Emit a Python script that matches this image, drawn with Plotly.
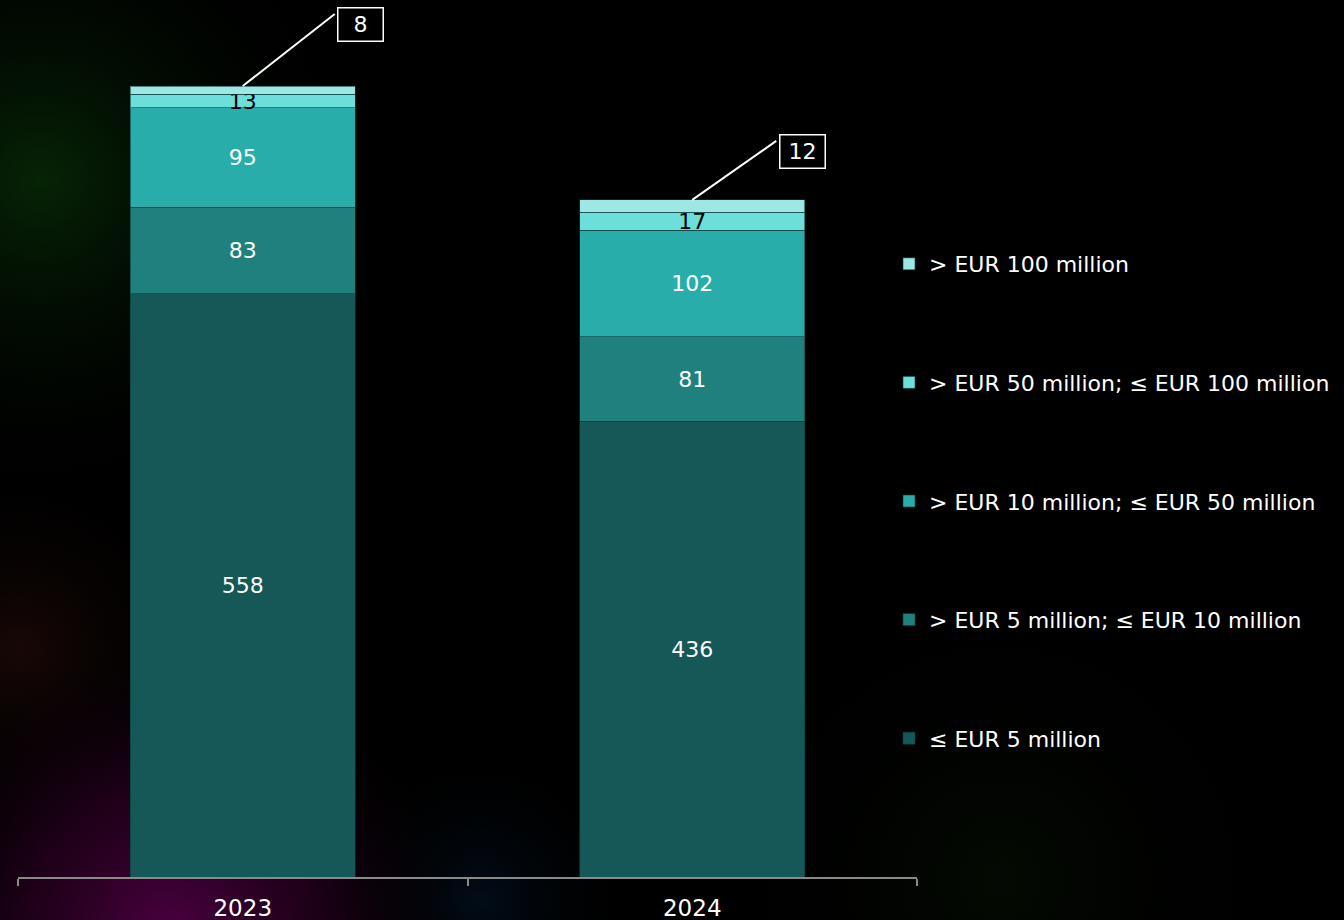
import base64
import plotly.graph_objects as go

years = ["2023", "2024"]
series_names = [
    "≤ EUR 5 million",
    "> EUR 5 million; ≤ EUR 10 million",
    "> EUR 10 million; ≤ EUR 50 million",
    "> EUR 50 million; ≤ EUR 100 million",
    "> EUR 100 million",
]
le_5 = [558, 436]
m5_10 = [83, 81]
m10_50 = [95, 102]
m50_100 = [13, 17]
gt_100 = [8, 12]
series_values = [le_5, m5_10, m10_50, m50_100, gt_100]
colors = ["#165858", "#20807e", "#29adaa", "#6ddfdb", "#9de8e5"]
text_colors = ["white", "white", "white", "black", "black"]
show_text = [True, True, True, True, False]

FONT = "DejaVu Sans"

# background glow (svg)
W, H = 1344, 920
svg = f'''<svg xmlns="http://www.w3.org/2000/svg" width="{W}" height="{H}" viewBox="0 0 {W} {H}">
<defs>
<radialGradient id="g1" cx="40" cy="180" r="330" gradientUnits="userSpaceOnUse">
<stop offset="0" stop-color="#062406" stop-opacity="1"/>
<stop offset="1" stop-color="#000000" stop-opacity="0"/>
</radialGradient>
<radialGradient id="g2" cx="170" cy="930" r="300" gradientUnits="userSpaceOnUse">
<stop offset="0" stop-color="#4a0040" stop-opacity="1"/>
<stop offset="0.5" stop-color="#280020" stop-opacity="0.7"/>
<stop offset="1" stop-color="#000000" stop-opacity="0"/>
</radialGradient>
<radialGradient id="g3" cx="20" cy="650" r="200" gradientUnits="userSpaceOnUse">
<stop offset="0" stop-color="#180806" stop-opacity="1"/>
<stop offset="1" stop-color="#000000" stop-opacity="0"/>
</radialGradient>
<radialGradient id="g4" cx="480" cy="900" r="160" gradientUnits="userSpaceOnUse">
<stop offset="0" stop-color="#020c18" stop-opacity="1"/>
<stop offset="1" stop-color="#000000" stop-opacity="0"/>
</radialGradient>
<radialGradient id="g5" cx="1000" cy="880" r="300" gradientUnits="userSpaceOnUse">
<stop offset="0" stop-color="#040a02" stop-opacity="1"/>
<stop offset="1" stop-color="#000000" stop-opacity="0"/>
</radialGradient>
</defs>
<rect width="{W}" height="{H}" fill="#000000"/>
<rect width="{W}" height="{H}" fill="url(#g1)"/>
<rect width="{W}" height="{H}" fill="url(#g3)"/>
<rect width="{W}" height="{H}" fill="url(#g4)"/>
<rect width="{W}" height="{H}" fill="url(#g5)"/>
<rect width="{W}" height="{H}" fill="url(#g2)"/>
</svg>'''
bg_src = "data:image/svg+xml;base64," + base64.b64encode(svg.encode()).decode()

ML, MR, MT, MB = 18, 427, 0, 43
PW = W - ML - MR
PH = H - MT - MB

fig = go.Figure()
for i, (name, vals) in enumerate(zip(series_names, series_values)):
    fig.add_trace(go.Bar(
        x=years, y=vals, name=name,
        marker=dict(color=colors[i], line=dict(color="rgba(10,60,60,0.6)", width=1)),
        text=[str(v) for v in vals] if show_text[i] else None,
        textposition="inside" if show_text[i] else "none",
        insidetextanchor="middle",
        textangle=0,
        textfont=dict(color=text_colors[i], size=22, family=FONT),
        legendgroup=f"g{i}",
        legendrank=10 - i,
        hoverinfo="skip",
    ))

# callouts for the smallest segment: leader line (pixel offsets from bar top) + boxed label
totals = [sum(v[j] for v in series_values) for j in range(len(years))]
leader_ends = [(92, 72), (84, 59)]
box_offsets = [(118, 62), (110, 48)]
for j, yr in enumerate(years):
    fig.add_shape(
        type="line", xref="x", yref="y",
        xsizemode="pixel", ysizemode="pixel", xanchor=j, yanchor=totals[j],
        x0=0, y0=0, x1=leader_ends[j][0], y1=leader_ends[j][1],
        line=dict(color="white", width=2),
    )
    fig.add_annotation(
        x=j, y=totals[j], xref="x", yref="y",
        xshift=box_offsets[j][0], yshift=box_offsets[j][1],
        text=str(gt_100[j]), showarrow=False,
        font=dict(color="white", size=22, family=FONT),
        bordercolor="white", borderwidth=1.5, borderpad=2, bgcolor="black",
        width=40, height=28,
    )

fig.add_layout_image(dict(
    source=bg_src, xref="paper", yref="paper",
    x=-ML / PW, y=1 + MT / PH, sizex=W / PW, sizey=H / PH,
    xanchor="left", yanchor="top", sizing="stretch", layer="below",
))

fig.update_layout(
    width=W, height=H,
    margin=dict(l=ML, r=MR, t=MT, b=MB, autoexpand=False),
    barmode="stack", bargap=0.5,
    paper_bgcolor="black", plot_bgcolor="rgba(0,0,0,0)",
    font=dict(family=FONT, color="white", size=21),
    uniformtext=dict(minsize=22, mode="show"),
    showlegend=True,
    legend=dict(
        x=(889 - ML) / PW, xanchor="left", y=(877 - 243) / PH, yanchor="top",
        traceorder="grouped", tracegroupgap=87,
        font=dict(size=22, color="white", family=FONT),
        bgcolor="rgba(0,0,0,0)", itemclick=False,
    ),
    xaxis=dict(
        type="category", range=[-0.5, 1.5], autorange=False,
        showline=True, linecolor="#8a8a8a", linewidth=2,
        ticks="outside", tickson="boundaries", ticklen=7, tickcolor="#8a8a8a", tickwidth=2,
        tickfont=dict(size=23, color="white", family=FONT),
        ticklabelstandoff=9,
        tickangle=0, automargin=False,
        showgrid=False, zeroline=False, fixedrange=True,
    ),
    yaxis=dict(
        range=[0, PH * 757 / 791], autorange=False, visible=False, showgrid=False, zeroline=False,
    ),
)

fig.write_html("out.html")
